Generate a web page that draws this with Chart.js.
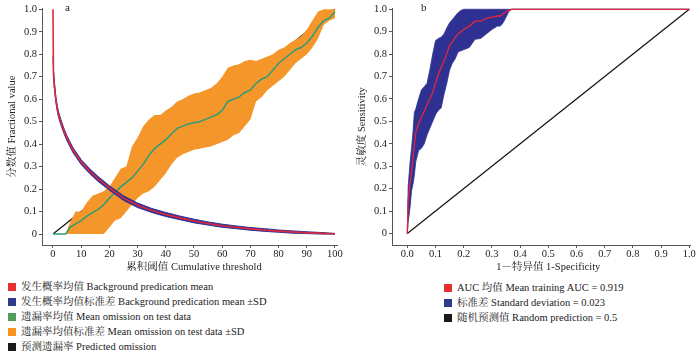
<!DOCTYPE html>
<html>
<head>
<meta charset="utf-8">
<script src="https://cdn.jsdelivr.net/npm/chart.js@4"></script>
<style>
  html, body { margin: 0; padding: 0; background: #fff; }
  body { width: 700px; height: 354px; position: relative; overflow: hidden;
         font-family: "Liberation Serif", "Noto Serif CJK SC", "Noto Sans CJK SC", serif; color: #222; }
  canvas { position: absolute; top: 0; }
  #cA { left: 0; }
  #cB { left: 350px; }
  .tag { position: absolute; top: 0; font-size: 11px; line-height: 14px; }
  .legend { position: absolute; font-size: 10.5px; line-height: 15px; }
  .legend div { white-space: nowrap; }
  .legend i { display: inline-block; width: 8px; height: 8px; margin-right: 5px; vertical-align: -0.5px; }
</style>
</head>
<body>
<canvas id="cA" width="350" height="275"></canvas>
<canvas id="cB" width="350" height="275"></canvas>
<span class="tag" style="left:65px">a</span>
<span class="tag" style="left:421px">b</span>
<div class="legend" id="legA" style="left:8px; top:279px"></div>
<div class="legend" id="legB" style="left:444px; top:280px"></div>
<script>
// ---- panel a: jackknife / omission ----
const BG_X     = [0, 0.15, 0.5, 1, 1.5, 2, 3, 4, 5, 7, 10, 13, 16, 20, 25, 30, 35, 40, 45, 50, 55, 60, 65, 70, 75, 80, 85, 90, 95, 100];
const BG_MEAN  = [1.0, 0.72, 0.66, 0.6, 0.56, 0.53, 0.49, 0.455, 0.425, 0.375, 0.32, 0.28, 0.245, 0.205, 0.16, 0.128, 0.105, 0.087, 0.072, 0.058, 0.047, 0.037, 0.03, 0.023, 0.018, 0.013, 0.009, 0.006, 0.003, 0];
const BG_UPPER = [0.79, 0.735, 0.675, 0.612, 0.572, 0.542, 0.502, 0.466, 0.436, 0.386, 0.331, 0.291, 0.256, 0.215, 0.17, 0.138, 0.114, 0.096, 0.08, 0.066, 0.054, 0.044, 0.036, 0.029, 0.024, 0.018, 0.014, 0.01, 0.007, 0.003];
const BG_LOWER = [0.71, 0.705, 0.645, 0.588, 0.548, 0.518, 0.478, 0.444, 0.414, 0.364, 0.309, 0.269, 0.234, 0.195, 0.15, 0.118, 0.096, 0.078, 0.064, 0.05, 0.04, 0.03, 0.024, 0.017, 0.012, 0.008, 0.004, 0.002, 0, 0];

const OM_X     = [0, 4.5, 6, 8, 10, 12, 14, 16, 18, 20, 22, 24, 26, 28, 30, 32, 34, 36, 38, 40, 42, 44, 46, 48, 50, 52, 54, 56, 58, 60, 62, 64, 66, 68, 70, 72, 74, 76, 78, 80, 82, 84, 86, 88, 90, 92, 94, 96, 98, 100];
const OM_MEAN  = [0, 0, 0.03, 0.045, 0.06, 0.08, 0.095, 0.11, 0.13, 0.16, 0.185, 0.21, 0.23, 0.25, 0.28, 0.31, 0.35, 0.38, 0.40, 0.42, 0.445, 0.47, 0.48, 0.49, 0.495, 0.50, 0.51, 0.52, 0.53, 0.55, 0.59, 0.60, 0.61, 0.63, 0.64, 0.67, 0.69, 0.70, 0.73, 0.76, 0.78, 0.80, 0.82, 0.83, 0.85, 0.88, 0.92, 0.95, 0.96, 0.99];
const OM_UPPER = [0, 0, 0.05, 0.10, 0.10, 0.14, 0.17, 0.18, 0.19, 0.21, 0.25, 0.29, 0.30, 0.39, 0.43, 0.48, 0.51, 0.53, 0.53, 0.55, 0.565, 0.59, 0.60, 0.615, 0.625, 0.63, 0.64, 0.65, 0.67, 0.70, 0.74, 0.75, 0.755, 0.77, 0.775, 0.77, 0.78, 0.79, 0.80, 0.82, 0.83, 0.85, 0.865, 0.88, 0.91, 0.95, 0.99, 1.0, 1.0, 1.0];
const OM_LOWER = [0, 0, 0, 0, 0, 0, 0, 0, 0, 0.03, 0.06, 0.07, 0.10, 0.13, 0.16, 0.18, 0.19, 0.21, 0.24, 0.27, 0.31, 0.34, 0.355, 0.365, 0.375, 0.38, 0.385, 0.39, 0.40, 0.41, 0.42, 0.44, 0.45, 0.48, 0.51, 0.59, 0.61, 0.64, 0.66, 0.68, 0.70, 0.73, 0.76, 0.78, 0.80, 0.83, 0.87, 0.93, 0.95, 0.96];

const PRED_X = [0, 100];
const PRED_Y = [0, 1];

const A_X_TICKS  = [0, 10, 20, 30, 40, 50, 60, 70, 80, 90, 100];
const A_X_LABELS = ['0', '10', '20', '30', '40', '50', '60', '70', '80', '90', '100'];
const Y_TICKS    = [0, 0.1, 0.2, 0.3, 0.4, 0.5, 0.6, 0.7, 0.8, 0.9, 1.0];
const Y_LABELS   = ['0', '0.1', '0.2', '0.3', '0.4', '0.5', '0.6', '0.7', '0.8', '0.9', '1.0'];

// ---- panel b: ROC ----
const ROC_X     = [0, 0.003, 0.01, 0.015, 0.02, 0.025, 0.03, 0.04, 0.05, 0.06, 0.07, 0.08, 0.09, 0.10, 0.11, 0.12, 0.13, 0.14, 0.15, 0.16, 0.17, 0.18, 0.19, 0.20, 0.22, 0.24, 0.26, 0.28, 0.30, 0.32, 0.33, 0.34, 0.35, 0.36, 0.37, 1.0];
const ROC_MEAN  = [0, 0.15, 0.23, 0.28, 0.33, 0.40, 0.45, 0.49, 0.52, 0.545, 0.575, 0.60, 0.63, 0.67, 0.71, 0.74, 0.77, 0.80, 0.84, 0.855, 0.875, 0.89, 0.90, 0.91, 0.925, 0.947, 0.947, 0.96, 0.965, 0.97, 0.97, 0.98, 0.99, 0.995, 1.0, 1.0];
const ROC_UPPER = [0, 0.21, 0.32, 0.38, 0.45, 0.54, 0.555, 0.60, 0.64, 0.655, 0.67, 0.73, 0.80, 0.86, 0.87, 0.875, 0.89, 0.917, 0.94, 0.955, 0.97, 0.985, 0.995, 1.0, 1.0, 1.0, 1.0, 1.0, 1.0, 1.0, 1.0, 1.0, 1.0, 1.0, 1.0, 1.0];
const ROC_LOWER = [0, 0.05, 0.12, 0.19, 0.22, 0.26, 0.32, 0.37, 0.38, 0.40, 0.44, 0.47, 0.50, 0.53, 0.55, 0.56, 0.62, 0.67, 0.73, 0.76, 0.78, 0.81, 0.815, 0.82, 0.83, 0.866, 0.87, 0.89, 0.91, 0.925, 0.925, 0.94, 0.965, 0.99, 1.0, 1.0];
const RAND_X = [0, 1];
const RAND_Y = [0, 1];

const B_X_TICKS  = [0, 0.1, 0.2, 0.3, 0.4, 0.5, 0.6, 0.7, 0.8, 0.9, 1.0];
const B_X_LABELS = ['0.0', '0.1', '0.2', '0.3', '0.4', '0.5', '0.6', '0.7', '0.8', '0.9', '1.0'];

const LEGEND_A = [
  ['#e8312f', '发生概率均值 Background predication mean'],
  ['#2e3a8c', '发生概率均值标准差 Background predication mean ±SD'],
  ['#4f9d5a', '遗漏率均值 Mean omission on test data'],
  ['#f7941d', '遗漏率均值标准差 Mean omission on test data ±SD'],
  ['#1a1a1a', '预测遗漏率 Predicted omission']
];
const LEGEND_B = [
  ['#e8312f', 'AUC 均值 Mean training AUC = 0.919'],
  ['#2e3a8c', '标准差 Standard deviation = 0.023'],
  ['#1a1a1a', '随机预测值 Random prediction = 0.5']
];

const FONT = '"Liberation Serif", "Noto Serif CJK SC", "Noto Sans CJK SC", serif';
const RED = '#e0283c', NAVY = '#2e3192', GREEN = '#2a9d78', ORANGE = '#f5962a', INK = '#111';

const pts = (xs, ys) => xs.map((x, i) => ({ x, y: ys[i] }));

// x-axis title centred on the data range, like the original
const xTitle = {
  id: 'xTitle',
  afterDraw(chart, args, opts) {
    const { ctx } = chart;
    const x = chart.scales.x;
    ctx.save();
    ctx.font = '10.5px ' + FONT;
    ctx.fillStyle = '#222';
    ctx.textAlign = 'center';
    ctx.textBaseline = 'middle';
    ctx.fillText(opts.text, x.getPixelForValue(opts.at), opts.y);
    ctx.restore();
  }
};

function axes(xMin, xMax, xTicks, xLabels, yMin, yMax, yTitle) {
  const tickFont = { family: FONT, size: 10.5 };
  return {
    x: {
      type: 'linear', min: xMin, max: xMax,
      afterBuildTicks: s => { s.ticks = xTicks.map(v => ({ value: v })); },
      afterFit: s => { s.height = 30; },
      ticks: { callback: (v, i) => xLabels[i], color: '#222', font: tickFont, padding: 0, maxRotation: 0, autoSkip: false },
      grid: { drawOnChartArea: false, drawTicks: true, tickLength: 3, color: '#555' },
      border: { display: true, color: '#555', width: 1 }
    },
    y: {
      type: 'linear', min: yMin, max: yMax,
      afterBuildTicks: s => { s.ticks = Y_TICKS.map(v => ({ value: v })); },
      afterFit: s => { s.width = 42; },
      ticks: { callback: (v, i) => Y_LABELS[i], color: '#222', font: tickFont, padding: 2, autoSkip: false },
      grid: { drawOnChartArea: false, drawTicks: true, tickLength: 3, color: '#555' },
      border: { display: true, color: '#555', width: 1 },
      title: { display: true, text: yTitle, color: '#222', font: { family: FONT, size: 10.5 }, padding: { top: 6, bottom: 0 } }
    }
  };
}

const base = {
  responsive: false,
  animation: false,
  devicePixelRatio: 1,
  layout: { padding: { top: 7, right: 13, left: 0, bottom: 0 } },
  elements: { point: { radius: 0 }, line: { tension: 0 } },
  events: []
};

new Chart(document.getElementById('cA'), {
  type: 'line',
  data: {
    datasets: [
      { label: 'mean', data: pts(BG_X, BG_MEAN), borderColor: RED, borderWidth: 1.6, fill: false },
      { label: 'sd+', data: pts(BG_X, BG_UPPER), borderColor: NAVY, borderWidth: 1, backgroundColor: NAVY, fill: '+1' },
      { label: 'sd-', data: pts(BG_X, BG_LOWER), borderColor: NAVY, borderWidth: 1, fill: false },
      { label: 'omission', data: pts(OM_X, OM_MEAN), borderColor: GREEN, borderWidth: 1.5, fill: false },
      { label: 'om+', data: pts(OM_X, OM_UPPER), borderWidth: 0, borderColor: ORANGE, backgroundColor: ORANGE, fill: '+1' },
      { label: 'om-', data: pts(OM_X, OM_LOWER), borderWidth: 0, borderColor: ORANGE, fill: false },
      { label: 'pred', data: pts(PRED_X, PRED_Y), borderColor: INK, borderWidth: 1.2, fill: false }
    ]
  },
  options: {
    ...base,
    scales: axes(-3.9, 100.71, A_X_TICKS, A_X_LABELS, -0.0487, 1.0044, '分数值 Fractional value'),
    plugins: {
      legend: { display: false }, tooltip: { enabled: false },
      xTitle: { text: '累积阈值 Cumulative threshold', at: 50, y: 267 }
    }
  },
  plugins: [xTitle]
});

new Chart(document.getElementById('cB'), {
  type: 'line',
  data: {
    datasets: [
      { label: 'auc', data: pts(ROC_X, ROC_MEAN), borderColor: RED, borderWidth: 1.3, fill: false, clip: 4 },
      { label: 'sd+', data: pts(ROC_X, ROC_UPPER), borderColor: NAVY, borderWidth: 0.8, backgroundColor: NAVY, fill: '+1', clip: 4 },
      { label: 'sd-', data: pts(ROC_X, ROC_LOWER), borderColor: NAVY, borderWidth: 0.8, fill: false, clip: 4 },
      { label: 'rand', data: pts(RAND_X, RAND_Y), borderColor: INK, borderWidth: 1.2, fill: false, clip: 4 }
    ]
  },
  options: {
    ...base,
    layout: { padding: { top: 7, right: 10, left: 0, bottom: 0 } },
    scales: axes(-0.0543, 1.0025, B_X_TICKS, B_X_LABELS, -0.051, 1.0044, '灵敏度 Sensitivity'),
    plugins: {
      legend: { display: false }, tooltip: { enabled: false },
      xTitle: { text: '1－特异值 1-Specificity', at: 0.5, y: 267 }
    }
  },
  plugins: [xTitle]
});

function buildLegend(id, items) {
  const el = document.getElementById(id);
  items.forEach(([color, text]) => {
    const row = document.createElement('div');
    const sw = document.createElement('i');
    sw.style.background = color;
    row.appendChild(sw);
    row.appendChild(document.createTextNode(text));
    el.appendChild(row);
  });
}
buildLegend('legA', LEGEND_A);
buildLegend('legB', LEGEND_B);
</script>
</body>
</html>
